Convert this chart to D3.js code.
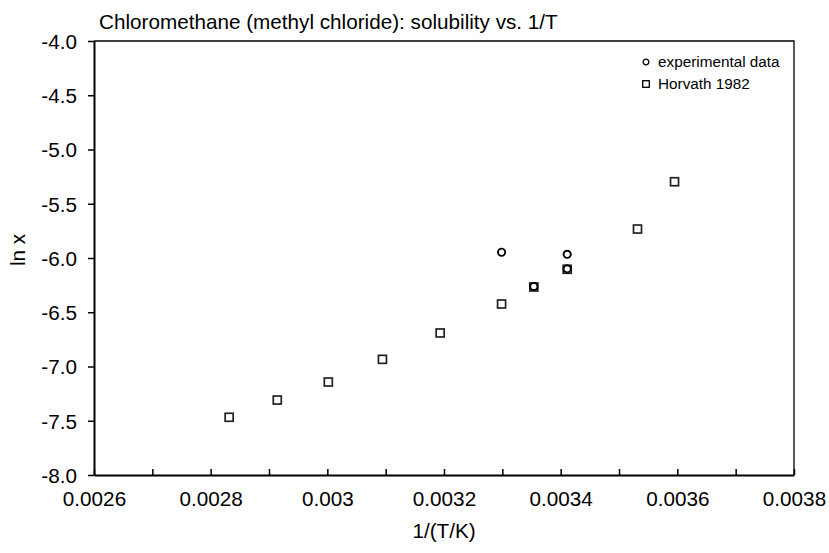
<!DOCTYPE html>
<html>
<head>
<meta charset="utf-8">
<script src="https://cdn.jsdelivr.net/npm/d3@7"></script>
<style>
  body { margin: 0; background: #fff; }
  svg text { font-family: "Liberation Sans", Arial, sans-serif; fill: #000; }
</style>
</head>
<body>
<div class="canvas"></div>
<script>
// DATA
const horvathX = [0.0028317, 0.0029142, 0.0030017, 0.0030945, 0.0031934, 0.0032987, 0.0033540, 0.0034112, 0.0035317, 0.0035952];
const horvathY = [-7.468, -7.309, -7.143, -6.934, -6.691, -6.424, -6.267, -6.104, -5.733, -5.297];
const expX = [0.0032987, 0.0034112, 0.0034112, 0.0033540];
const expY = [-5.947, -5.966, -6.100, -6.262];

const xTicks = [0.0026, 0.0027, 0.0028, 0.0029, 0.0030, 0.0031, 0.0032, 0.0033, 0.0034, 0.0035, 0.0036, 0.0037, 0.0038];
const xLabels = ["0.0026", "", "0.0028", "", "0.003", "", "0.0032", "", "0.0034", "", "0.0036", "", "0.0038"];
const yTicks = [-4.0, -4.5, -5.0, -5.5, -6.0, -6.5, -7.0, -7.5, -8.0];

const title = "Chloromethane (methyl chloride): solubility vs. 1/T";
const seriesNames = ["experimental data", "Horvath 1982"];

// Dimensions
const W = 829, H = 553;
const margins = {top: 41, right: 35, bottom: 78, left: 94};
const width = W - margins.left - margins.right;
const height = H - margins.top - margins.bottom;

const svg = d3.select(".canvas").append("svg")
  .attr("width", W)
  .attr("height", H);

const canvas = svg.append("g")
  .attr("transform", `translate(${margins.left},${margins.top})`);

// SCALES
const xScale = d3.scaleLinear().domain([0.0026, 0.0038]).range([0, width]);
const yScale = d3.scaleLinear().domain([-8, -4]).range([height, 0]);

// frame (top + right)
canvas.append("path")
  .attr("d", `M0,0H${width}V${height}`)
  .attr("fill", "none")
  .attr("stroke", "#000")
  .attr("stroke-width", 1.3);

// AXES
const xAxis = canvas.append("g")
  .attr("transform", `translate(0,${height})`)
  .call(d3.axisBottom(xScale)
    .tickValues(xTicks)
    .tickSizeInner(-6)
    .tickSizeOuter(0)
    .tickPadding(16)
    .tickFormat((d, i) => xLabels[i]));

const yAxis = canvas.append("g")
  .call(d3.axisLeft(yScale)
    .tickValues(yTicks)
    .tickSizeInner(6)
    .tickSizeOuter(0)
    .tickPadding(11)
    .tickFormat(d => d.toFixed(1)));

[xAxis, yAxis].forEach(ax => {
  ax.select(".domain").attr("stroke", "#000").attr("stroke-width", 2);
  ax.selectAll(".tick line").attr("stroke", "#000").attr("stroke-width", 1.5);
  ax.selectAll(".tick text").attr("font-size", 20.7).attr("fill", "#000");
});
yAxis.selectAll(".tick text").attr("dy", "0.35em");

// MARKERS
const sq = 8;
canvas.selectAll("rect.horvath")
  .data(horvathX.map((x, i) => ({x: x, y: horvathY[i]})))
  .enter()
  .append("rect")
    .attr("class", "horvath")
    .attr("x", d => xScale(d.x) - sq / 2)
    .attr("y", d => yScale(d.y) - sq / 2)
    .attr("width", sq)
    .attr("height", sq)
    .attr("fill", "none")
    .attr("stroke", "#222")
    .attr("stroke-width", 1.7);

canvas.selectAll("circle.exp")
  .data(expX.map((x, i) => ({x: x, y: expY[i]})))
  .enter()
  .append("circle")
    .attr("class", "exp")
    .attr("cx", d => xScale(d.x))
    .attr("cy", d => yScale(d.y))
    .attr("r", 3.6)
    .attr("fill", "none")
    .attr("stroke", "#000")
    .attr("stroke-width", 1.9);

// TITLES
svg.append("text")
  .attr("x", 99)
  .attr("y", 29)
  .attr("font-size", 20.7)
  .text(title);

svg.append("text")
  .attr("x", margins.left + width / 2)
  .attr("y", 538)
  .attr("text-anchor", "middle")
  .attr("font-size", 20.7)
  .text("1/(T/K)");

svg.append("text")
  .attr("transform", `translate(25,250) rotate(-90)`)
  .attr("text-anchor", "middle")
  .attr("font-size", 20.7)
  .text("ln x");

// LEGEND
const legend = svg.append("g").attr("transform", "translate(646,62)");
legend.append("circle")
  .attr("cx", 0).attr("cy", 0).attr("r", 2.9)
  .attr("fill", "none").attr("stroke", "#000").attr("stroke-width", 1.3);
legend.append("rect")
  .attr("x", -3.3).attr("y", 22 - 3.3).attr("width", 6.6).attr("height", 6.6)
  .attr("fill", "none").attr("stroke", "#000").attr("stroke-width", 1.3);
legend.selectAll("text.leg")
  .data(seriesNames)
  .enter()
  .append("text")
    .attr("class", "leg")
    .attr("x", 12)
    .attr("y", (d, i) => i * 22)
    .attr("dy", "0.35em")
    .attr("font-size", 15.3)
    .text(d => d);
</script>
</body>
</html>
